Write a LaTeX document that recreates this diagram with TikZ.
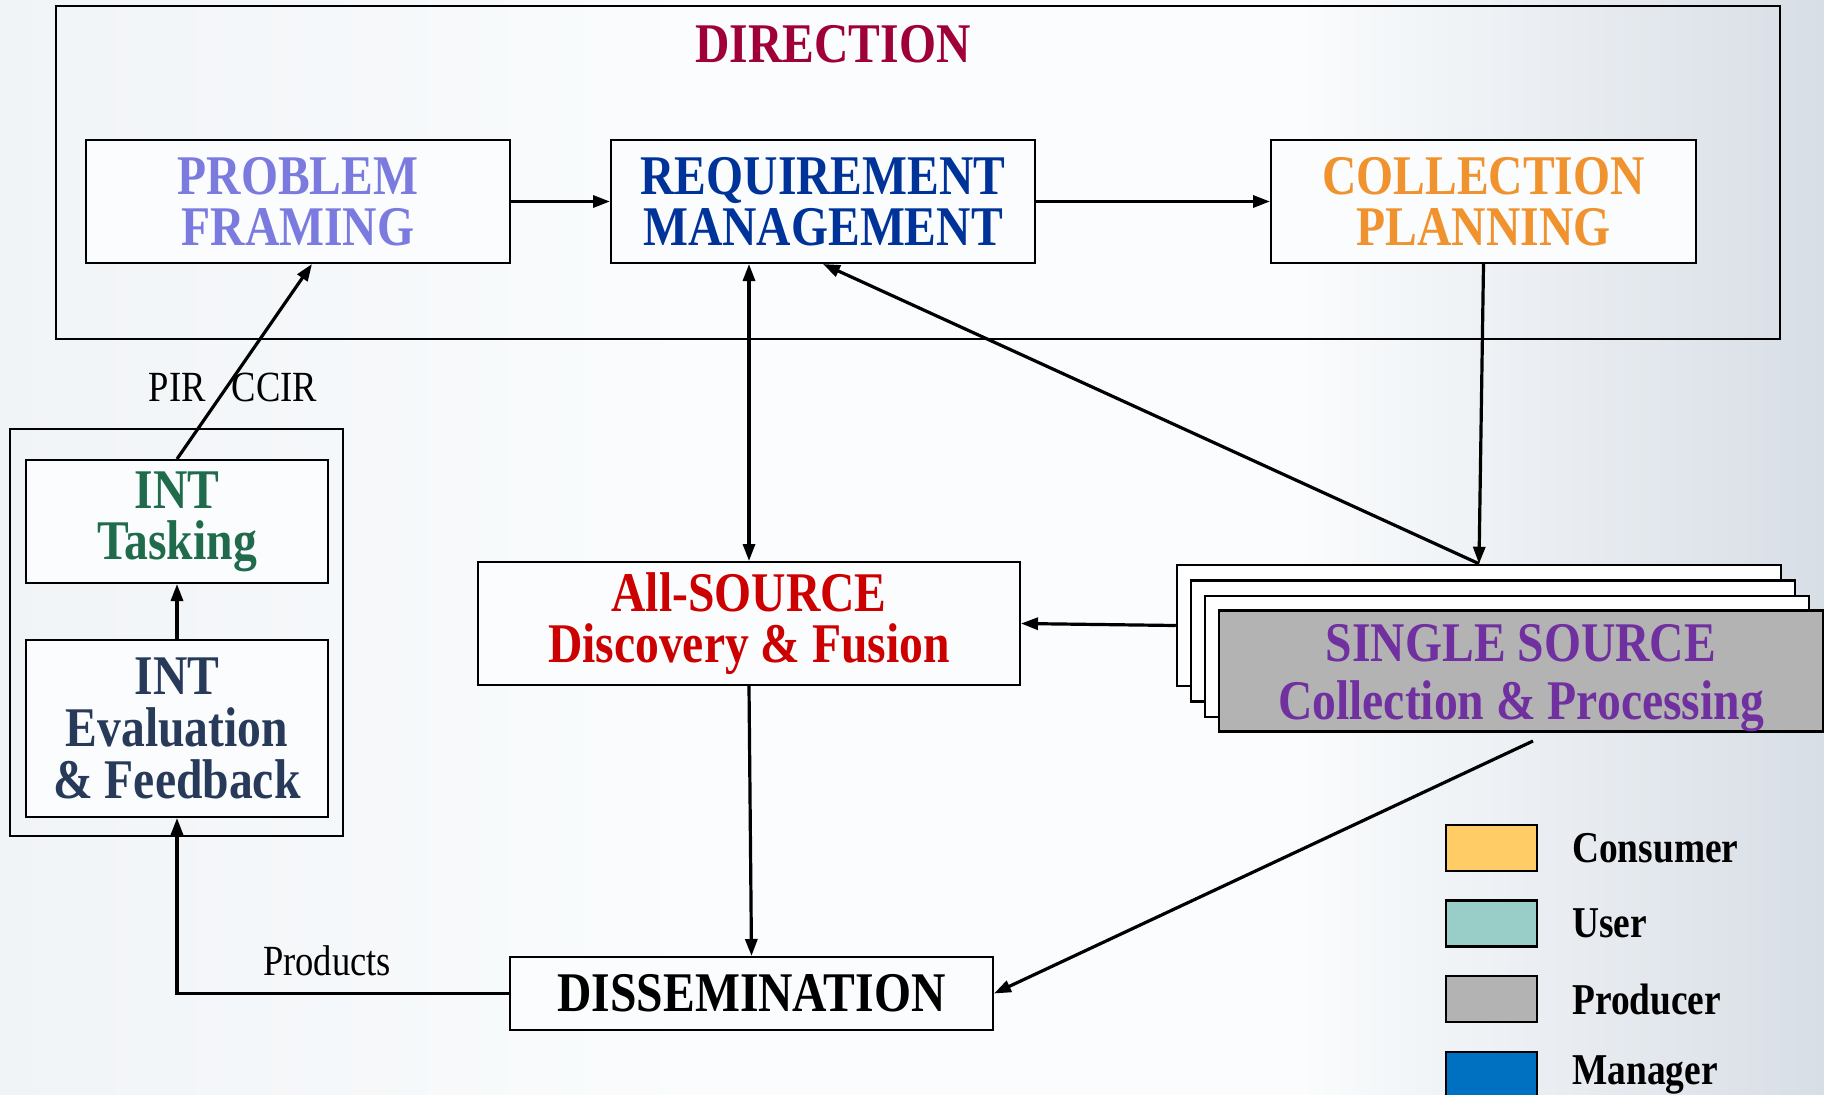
\documentclass[tikz,border=0pt]{standalone}
\usepackage{fontspec}
\setmainfont{Liberation Serif}[FakeStretch=0.85]
\usepackage{tikz}
\usetikzlibrary{arrows.meta,positioning,calc}
\definecolor{dirred}{HTML}{A00038}
\definecolor{pfblue}{HTML}{7B7BDF}
\definecolor{rmblue}{HTML}{003399}
\definecolor{cporange}{HTML}{F0922E}
\definecolor{taskgreen}{HTML}{1F6B4C}
\definecolor{evalnavy}{HTML}{283A5A}
\definecolor{allred}{HTML}{CC0000}
\definecolor{sspurple}{HTML}{7030A0}
\definecolor{prodgray}{HTML}{B3B3B3}
\definecolor{consumer}{HTML}{FFCC66}
\definecolor{user}{HTML}{99CDC8}
\definecolor{manager}{HTML}{0070C0}
\definecolor{bgleft}{HTML}{F1F4F7}
\definecolor{bgmid}{HTML}{FAFCFD}
\definecolor{bgright}{HTML}{D8DEE6}

\tikzset{
  box/.style={draw=black, line width=2pt, fill=bgmid, align=center, inner sep=0pt,
    font=\fontsize{56}{51}\selectfont\bfseries},
  frame/.style={draw=black, line width=2.5pt, inner sep=0pt},
  stack/.style={draw=black, line width=2.5pt, fill=white, inner sep=0pt,
    minimum width=604pt, minimum height=121pt},
  link/.style={line width=3.2pt, -{Triangle[length=17pt,width=12pt]}},
  biglink/.style={line width=3.2pt, {Triangle[length=17pt,width=12pt]}-{Triangle[length=17pt,width=12pt]}},
  swatch/.style={draw=black, line width=2.5pt, minimum width=91pt, minimum height=46pt, inner sep=0pt},
  legtext/.style={anchor=west, inner sep=0pt, font=\fontsize{44}{44}\selectfont\bfseries},
  note/.style={inner sep=0pt, font=\fontsize{43}{43}\selectfont}
}

\begin{document}
\begin{tikzpicture}[x=1pt,y=-1pt]
  \useasboundingbox (0,0) rectangle (1824,1095);
  \fill[bgmid] (0,0) rectangle (1824,1095);
  \shade[left color=bgleft, right color=bgmid] (0,0) rectangle (700,1095);
  \shade[left color=bgmid, right color=bgright] (1300,0) rectangle (1824,1095);

  % direction frame
  \node[frame, minimum width=1724pt, minimum height=333pt] (dir) at (918,172.5) {};
  \node[font=\fontsize{56}{56}\selectfont\bfseries, text=dirred] (dirlabel) at (833,44) {DIRECTION};
  \node[box, text=pfblue, minimum width=424pt, minimum height=123pt] (pf) at (298,201.5) {PROBLEM\\FRAMING};
  \node[box, text=rmblue, minimum width=424pt, minimum height=123pt] (rm) at (823,201.5) {REQUIREMENT\\MANAGEMENT};
  \node[box, text=cporange, minimum width=425pt, minimum height=123pt] (cp) at (1483.5,201.5) {COLLECTION\\PLANNING};

  % intelligence frame
  \node[frame, minimum width=333pt, minimum height=407pt] (intframe) at (176.5,632.5) {};
  \node[box, text=taskgreen, minimum width=302pt, minimum height=123pt] (task) at (177,521.5) {INT\\Tasking};
  \node[box, text=evalnavy, font=\fontsize{56}{52}\selectfont\bfseries,
        minimum width=302pt, minimum height=177pt] (eval) at (177,728.5) {INT\\Evaluation\\\& Feedback};

  \node[box, text=allred, minimum width=542pt, minimum height=123pt] (all) at (749,623.5) {All-SOURCE\\Discovery \& Fusion};

  % single source stack
  \foreach \i in {1,2,3}
    \node[stack] (ss\i) at ({1479+14*(\i-1)},{625.5+15.5*(\i-1)}) {};
  \node[stack, fill=prodgray] (ss4) at (1521,671) {};
  \node[text=sspurple, align=center, inner sep=0pt,
        font=\fontsize{56}{58}\selectfont\bfseries] (sstext) at ($(ss4.center)+(0,7)$) {SINGLE SOURCE\\Collection \& Processing};
  \coordinate (sstail) at (1533,741);

  \node[box, text=black, minimum width=483pt, minimum height=73pt] (diss) at (751.5,993.5) {DISSEMINATION};

  % labels
  \node[note] (pir) at (233,387) {PIR\hspace{26pt}CCIR};
  \node[note] (prod) at (327,961) {Products};

  % connectors
  \draw[link] (pf.east) -- (rm.west);
  \draw[link] (rm.east) -- (cp.west);
  \draw[biglink] (all.north |- rm.south) -- (all.north);
  \draw[link] (cp.south) -- (ss1.north);
  \draw[link] (ss1.north) -- (rm.south);
  \draw[link] (ss1.west) -- (all.east);
  \draw[link] (all.south) -- (diss.north);
  \draw[link] (sstail) -- (diss.east);
  \draw[link] (diss.west) -| (eval.south);
  \draw[link] (eval.north) -- (task.south);
  \draw[link] (task.north) -- ([xshift=14pt]pf.south);

  % legend
  \node[swatch, fill=consumer] (sw1) at (1491.5,848) {};
  \node[swatch, fill=user] (sw2) at (1491.5,923.5) {};
  \node[swatch, fill=prodgray] (sw3) at (1491.5,999) {};
  \node[swatch, fill=manager] (sw4) at (1491.5,1075) {};
  \node[legtext] (lg1) at (1572,848) {Consumer};
  \node[legtext] (lg2) at (1572,923.5) {User};
  \node[legtext] (lg3) at (1572,999) {Producer};
  \node[legtext] (lg4) at (1572,1075) {Manager};
\end{tikzpicture}
\end{document}
